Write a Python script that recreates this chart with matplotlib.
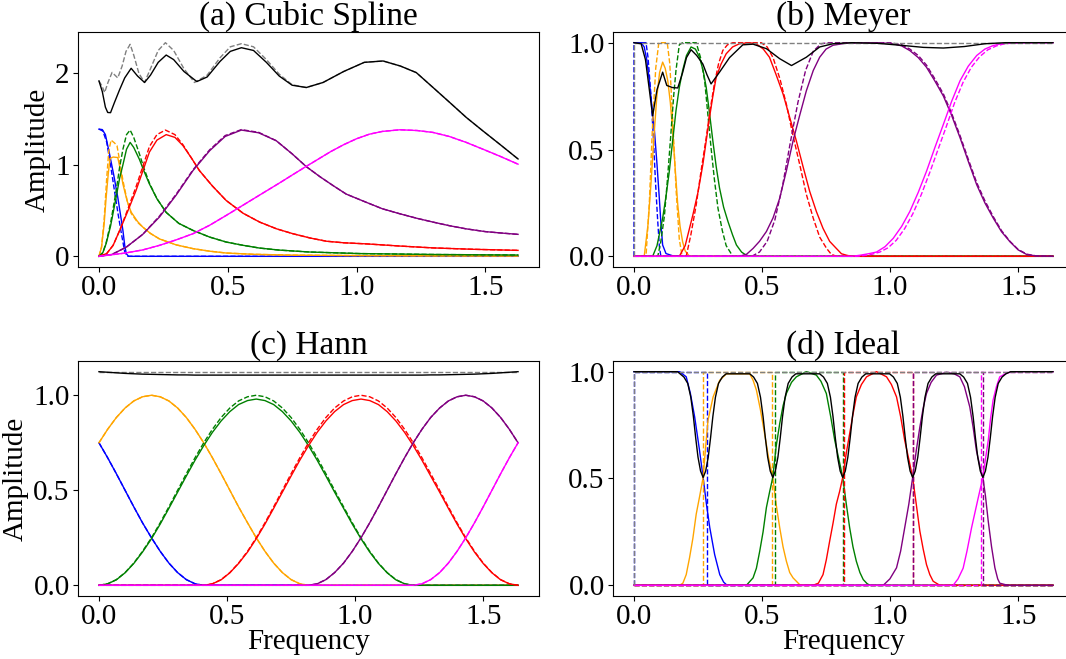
import matplotlib.pyplot as plt

plt.rcParams['font.family'] = ['Liberation Serif', 'DejaVu Serif']
plt.rcParams['font.size'] = 21

COLORS = ['blue', 'orange', 'green', 'red', 'purple', 'magenta']

# ---------------- (a) Cubic Spline ----------------
a_blue = [(0.0, 1.39), (0.013, 1.385), (0.025, 1.33), (0.041, 1.12), (0.058, 0.88), (0.073, 0.646),
          (0.085, 0.43), (0.093, 0.283), (0.1, 0.12), (0.106, 0.03), (0.115, 0.0), (1.627, 0.0)]
a_blue_d = [(0.0, 1.39), (0.015, 1.37), (0.03, 1.25), (0.045, 1.0), (0.06, 0.72), (0.075, 0.45),
            (0.087, 0.25), (0.1, 0.05), (0.11, 0.0), (1.627, 0.0)]

a_orange_tail = [(0.17, 0.32), (0.2, 0.25), (0.235, 0.19), (0.3, 0.125), (0.365, 0.084), (0.43, 0.056),
                 (0.494, 0.036), (0.6, 0.022), (0.75, 0.013), (1.0, 0.008), (1.3, 0.005), (1.627, 0.004)]
a_orange = [(0.0, 0.0), (0.01, 0.1), (0.02, 0.35), (0.028, 0.646), (0.036, 0.9), (0.043, 1.07),
            (0.055, 1.085), (0.073, 1.08), (0.083, 0.95), (0.093, 0.79), (0.11, 0.6), (0.125, 0.483),
            (0.15, 0.38)] + a_orange_tail
a_orange_d = [(0.0, 0.0), (0.01, 0.1), (0.02, 0.4), (0.03, 0.85), (0.038, 1.15), (0.047, 1.27),
              (0.06, 1.24), (0.07, 1.21), (0.08, 1.05), (0.093, 0.83), (0.11, 0.6), (0.125, 0.47),
              (0.15, 0.37)] + a_orange_tail

a_green_tail = [(0.261, 0.48), (0.31, 0.36), (0.365, 0.283), (0.43, 0.21), (0.494, 0.156), (0.56, 0.12),
                (0.624, 0.09), (0.7, 0.068), (0.818, 0.047), (1.012, 0.03), (1.3, 0.02), (1.627, 0.014)]
a_green = [(0.0, 0.0), (0.015, 0.04), (0.028, 0.14), (0.045, 0.33), (0.067, 0.65), (0.08, 0.85),
           (0.093, 1.0), (0.107, 1.17), (0.121, 1.245), (0.135, 1.19), (0.157, 1.06), (0.175, 0.93),
           (0.196, 0.79), (0.225, 0.63)] + a_green_tail
a_green_d = [(0.0, 0.0), (0.015, 0.04), (0.028, 0.15), (0.045, 0.36), (0.067, 0.72), (0.08, 0.97),
             (0.093, 1.17), (0.107, 1.33), (0.121, 1.38), (0.135, 1.3), (0.157, 1.12), (0.175, 0.96),
             (0.196, 0.8), (0.225, 0.63)] + a_green_tail

a_red_tail = [(0.39, 0.937), (0.44, 0.77), (0.494, 0.61), (0.56, 0.47), (0.624, 0.374), (0.69, 0.3),
              (0.753, 0.247), (0.82, 0.2), (0.883, 0.165), (0.95, 0.148), (1.038, 0.136), (1.17, 0.112),
              (1.297, 0.092), (1.45, 0.077), (1.627, 0.065)]
a_red = [(0.0, 0.0), (0.03, 0.03), (0.055, 0.12), (0.08, 0.28), (0.11, 0.48), (0.144, 0.72), (0.17, 0.93),
         (0.196, 1.14), (0.225, 1.27), (0.261, 1.33), (0.295, 1.3), (0.326, 1.21), (0.36, 1.07)] + a_red_tail
a_red_d = [(0.0, 0.0), (0.03, 0.03), (0.055, 0.12), (0.08, 0.28), (0.11, 0.5), (0.144, 0.76), (0.17, 0.98),
           (0.196, 1.2), (0.225, 1.33), (0.258, 1.38), (0.295, 1.33), (0.326, 1.22), (0.36, 1.07)] + a_red_tail

a_purple = [(0.0, 0.0), (0.05, 0.02), (0.106, 0.1), (0.17, 0.24), (0.235, 0.43), (0.3, 0.67), (0.365, 0.937),
            (0.43, 1.155), (0.49, 1.31), (0.553, 1.38), (0.62, 1.35), (0.688, 1.264), (0.75, 1.12),
            (0.805, 0.98), (0.858, 0.87), (0.909, 0.773), (0.96, 0.68), (1.038, 0.59), (1.1, 0.52),
            (1.168, 0.465), (1.235, 0.415), (1.297, 0.374), (1.36, 0.335), (1.426, 0.3), (1.5, 0.27),
            (1.56, 0.255), (1.627, 0.24)]
a_purple_d = [(0.0, 0.0), (0.05, 0.02), (0.106, 0.1), (0.17, 0.24), (0.235, 0.44), (0.3, 0.68), (0.365, 0.945),
              (0.43, 1.165), (0.49, 1.32), (0.553, 1.385), (0.62, 1.355), (0.688, 1.264), (0.75, 1.12),
              (0.805, 0.98), (0.858, 0.87), (0.909, 0.773), (0.96, 0.68), (1.038, 0.59), (1.1, 0.52),
              (1.168, 0.465), (1.235, 0.415), (1.297, 0.374), (1.36, 0.335), (1.426, 0.3), (1.5, 0.27),
              (1.56, 0.255), (1.627, 0.24)]

a_magenta = [(0.0, 0.0), (0.1, 0.035), (0.17, 0.07), (0.235, 0.12), (0.3, 0.18), (0.365, 0.247),
             (0.43, 0.34), (0.494, 0.447), (0.56, 0.56), (0.624, 0.67), (0.7, 0.8), (0.75, 0.888),
             (0.8, 0.975), (0.85, 1.06), (0.9, 1.145), (0.95, 1.22), (1.0, 1.285), (1.05, 1.335),
             (1.1, 1.365), (1.168, 1.383), (1.235, 1.375), (1.297, 1.354), (1.36, 1.31), (1.426, 1.245),
             (1.5, 1.16), (1.56, 1.09), (1.627, 1.007)]
a_magenta_d = a_magenta

a_sum_tail = [(0.805, 1.845), (0.87, 1.9), (0.95, 2.02), (1.03, 2.12), (1.103, 2.135), (1.17, 2.08),
              (1.232, 2.008), (1.297, 1.845), (1.362, 1.681), (1.426, 1.518), (1.49, 1.372),
              (1.555, 1.227), (1.627, 1.064)]
a_sum = [(0.0, 1.917), (0.013, 1.8), (0.025, 1.63), (0.034, 1.572), (0.045, 1.57), (0.06, 1.68),
         (0.08, 1.82), (0.1, 1.95), (0.125, 2.055), (0.15, 1.97), (0.177, 1.9), (0.2, 1.98), (0.23, 2.12),
         (0.261, 2.2), (0.29, 2.15), (0.33, 2.02), (0.38, 1.91), (0.42, 1.96), (0.47, 2.13), (0.51, 2.24),
         (0.553, 2.28), (0.6, 2.25), (0.65, 2.12), (0.7, 1.97), (0.75, 1.87)] + a_sum_tail
a_sum_d = [(0.0, 1.917), (0.012, 1.86), (0.022, 1.79), (0.035, 1.9), (0.051, 2.01), (0.062, 1.98),
           (0.073, 1.95), (0.09, 2.08), (0.105, 2.24), (0.121, 2.317), (0.135, 2.2), (0.155, 2.0),
           (0.177, 1.9), (0.2, 2.05), (0.23, 2.25), (0.258, 2.335), (0.29, 2.25), (0.33, 2.05),
           (0.371, 1.9), (0.42, 1.98), (0.47, 2.17), (0.51, 2.29), (0.553, 2.324), (0.6, 2.29),
           (0.65, 2.15), (0.7, 1.99), (0.75, 1.875)] + a_sum_tail

# ---------------- (b) Meyer ----------------
b_blue = [(0.0, 1.0), (0.028, 1.0), (0.04, 0.98), (0.05, 0.92), (0.06, 0.822), (0.07, 0.7), (0.08, 0.587),
          (0.09, 0.43), (0.099, 0.272), (0.106, 0.14), (0.112, 0.053), (0.125, 0.013), (0.15, 0.003),
          (0.177, 0.0), (1.636, 0.0)]
b_blue_d = [(0.0, 0.0), (0.0, 1.0), (0.047, 1.0), (0.055, 0.93), (0.067, 0.744), (0.076, 0.55),
            (0.084, 0.35), (0.092, 0.18), (0.099, 0.05), (0.105, 0.0), (1.636, 0.0)]
b_orange = [(0.0, 0.0), (0.04, 0.0), (0.055, 0.15), (0.067, 0.35), (0.078, 0.56), (0.089, 0.744),
            (0.1, 0.86), (0.112, 0.909), (0.122, 0.88), (0.132, 0.822), (0.142, 0.72), (0.151, 0.587),
            (0.161, 0.41), (0.171, 0.241), (0.18, 0.14), (0.19, 0.068), (0.2, 0.025), (0.217, 0.0),
            (1.636, 0.0)]
b_orange_d = [(0.0, 0.0), (0.047, 0.0), (0.06, 0.25), (0.072, 0.6), (0.085, 0.88), (0.097, 1.0),
              (0.13, 1.0), (0.14, 0.9), (0.152, 0.62), (0.165, 0.3), (0.177, 0.08), (0.188, 0.0),
              (1.636, 0.0)]
b_green = [(0.0, 0.0), (0.073, 0.0), (0.09, 0.05), (0.112, 0.178), (0.125, 0.28), (0.138, 0.398),
           (0.151, 0.54), (0.164, 0.681), (0.177, 0.79), (0.19, 0.87), (0.205, 0.94), (0.223, 0.98),
           (0.24, 0.97), (0.256, 0.932), (0.27, 0.87), (0.282, 0.791), (0.295, 0.67), (0.308, 0.54),
           (0.321, 0.42), (0.334, 0.32), (0.35, 0.23), (0.367, 0.163), (0.385, 0.1), (0.4, 0.053),
           (0.42, 0.02), (0.438, 0.005), (0.46, 0.0), (1.636, 0.0)]
b_green_d = [(0.0, 0.0), (0.093, 0.0), (0.105, 0.07), (0.119, 0.19), (0.132, 0.38), (0.145, 0.587),
             (0.155, 0.75), (0.164, 0.87), (0.177, 0.99), (0.19, 1.0), (0.243, 1.0), (0.26, 0.93),
             (0.276, 0.822), (0.288, 0.67), (0.301, 0.508), (0.314, 0.36), (0.328, 0.225), (0.345, 0.12),
             (0.36, 0.05), (0.386, 0.0), (1.636, 0.0)]
b_red = [(0.0, 0.0), (0.177, 0.0), (0.2, 0.05), (0.23, 0.194), (0.25, 0.3), (0.269, 0.43), (0.282, 0.54),
         (0.295, 0.65), (0.308, 0.75), (0.321, 0.838), (0.34, 0.9), (0.36, 0.948), (0.385, 0.98),
         (0.412, 0.995), (0.45, 1.0), (0.477, 0.995), (0.505, 0.97), (0.529, 0.932), (0.555, 0.85),
         (0.582, 0.76), (0.608, 0.65), (0.634, 0.54), (0.66, 0.42), (0.686, 0.304), (0.712, 0.21),
         (0.738, 0.131), (0.764, 0.07), (0.79, 0.037), (0.81, 0.012), (0.83, 0.005), (0.85, 0.0),
         (1.636, 0.0)]
b_red_d = [(0.0, 0.0), (0.204, 0.0), (0.222, 0.1), (0.243, 0.241), (0.262, 0.4), (0.282, 0.555),
           (0.298, 0.69), (0.314, 0.807), (0.33, 0.9), (0.347, 0.964), (0.365, 0.99), (0.386, 1.0),
           (0.497, 1.0), (0.52, 0.98), (0.543, 0.93), (0.57, 0.83), (0.595, 0.712), (0.62, 0.57),
           (0.647, 0.43), (0.673, 0.29), (0.7, 0.178), (0.725, 0.09), (0.752, 0.037), (0.77, 0.01),
           (0.79, 0.0), (1.636, 0.0)]
b_purple = [(0.0, 0.0), (0.412, 0.0), (0.44, 0.01), (0.465, 0.037), (0.49, 0.07), (0.517, 0.116),
            (0.543, 0.18), (0.569, 0.272), (0.595, 0.4), (0.621, 0.54), (0.647, 0.66), (0.673, 0.775),
            (0.7, 0.87), (0.725, 0.932), (0.75, 0.97), (0.777, 0.988), (0.83, 0.998), (0.95, 1.0),
            (1.012, 0.995), (1.045, 0.985), (1.077, 0.963), (1.11, 0.93), (1.142, 0.885), (1.175, 0.82),
            (1.208, 0.75), (1.24, 0.66), (1.273, 0.555), (1.305, 0.445), (1.338, 0.335), (1.37, 0.25),
            (1.403, 0.178), (1.435, 0.115), (1.468, 0.068), (1.5, 0.03), (1.534, 0.008), (1.57, 0.002),
            (1.636, 0.0)]
b_purple_d = [(0.0, 0.0), (0.46, 0.0), (0.49, 0.02), (0.52, 0.07), (0.55, 0.17), (0.58, 0.33),
              (0.61, 0.53), (0.64, 0.72), (0.67, 0.87), (0.7, 0.96), (0.73, 0.995), (0.76, 1.0),
              (1.0, 1.0), (1.045, 0.99), (1.077, 0.97), (1.11, 0.94), (1.142, 0.895), (1.175, 0.83),
              (1.208, 0.76), (1.24, 0.67), (1.273, 0.565), (1.305, 0.455), (1.338, 0.345), (1.37, 0.26),
              (1.403, 0.185), (1.435, 0.12), (1.468, 0.07), (1.5, 0.032), (1.534, 0.01), (1.57, 0.002),
              (1.636, 0.0)]
b_magenta = [(0.0, 0.0), (0.85, 0.0), (0.882, 0.005), (0.915, 0.012), (0.947, 0.02), (0.98, 0.045),
             (1.012, 0.084), (1.045, 0.14), (1.077, 0.21), (1.11, 0.3), (1.142, 0.398), (1.175, 0.51),
             (1.208, 0.618), (1.24, 0.725), (1.273, 0.822), (1.305, 0.89), (1.338, 0.94), (1.37, 0.97),
             (1.403, 0.987), (1.435, 0.995), (1.468, 0.998), (1.5, 1.0), (1.636, 1.0)]
b_magenta_d = [(0.0, 0.0), (0.87, 0.0), (0.9, 0.004), (0.93, 0.01), (0.96, 0.02), (0.992, 0.04),
               (1.024, 0.075), (1.057, 0.13), (1.089, 0.2), (1.122, 0.29), (1.154, 0.39), (1.187, 0.5),
               (1.22, 0.61), (1.252, 0.72), (1.285, 0.815), (1.317, 0.885), (1.35, 0.935), (1.382, 0.967),
               (1.415, 0.985), (1.447, 0.995), (1.48, 0.998), (1.51, 1.0), (1.636, 1.0)]
b_sum = [(0.0, 1.0), (0.028, 0.995), (0.045, 0.92), (0.06, 0.78), (0.073, 0.658), (0.09, 0.78),
         (0.112, 0.862), (0.128, 0.8), (0.15, 0.79), (0.171, 0.788), (0.19, 0.86), (0.205, 0.93),
         (0.223, 0.967), (0.245, 0.94), (0.269, 0.9), (0.285, 0.85), (0.301, 0.807), (0.334, 0.862),
         (0.373, 0.93), (0.425, 0.99), (0.465, 0.993), (0.517, 0.972), (0.569, 0.925), (0.615, 0.893),
         (0.673, 0.932), (0.725, 0.98), (0.777, 0.995), (0.85, 1.0), (0.95, 0.997), (1.05, 0.987),
         (1.13, 0.978), (1.208, 0.975), (1.29, 0.982), (1.37, 0.995), (1.45, 1.0), (1.636, 1.0)]
b_sum_d = [(0.0, 0.0), (0.0, 1.0), (1.636, 1.0)]

# ---------------- (c) Hann ----------------
c_x = [0.0, 0.034, 0.068, 0.102, 0.136, 0.170, 0.205, 0.239, 0.273, 0.307, 0.341, 0.375, 0.409,
       0.443, 0.477, 0.511, 0.545, 0.580, 0.614, 0.648, 0.682, 0.716, 0.750, 0.784, 0.818, 0.852,
       0.886, 0.920, 0.955, 0.989, 1.023, 1.057, 1.091, 1.125, 1.159, 1.193, 1.227, 1.261, 1.295,
       1.330, 1.364, 1.398, 1.432, 1.466, 1.500, 1.534, 1.568, 1.602, 1.636]
c_blue = [0.75, 0.671, 0.587, 0.5, 0.413, 0.329, 0.25, 0.179, 0.117, 0.067, 0.03, 0.008, 0.0] + [0.0] * 36
c_orange = ([0.75, 0.821, 0.883, 0.933, 0.97, 0.992, 1.0, 0.992, 0.97, 0.933, 0.883, 0.821, 0.75,
             0.671, 0.587, 0.5, 0.413, 0.329, 0.25, 0.179, 0.117, 0.067, 0.03, 0.008, 0.0] + [0.0] * 24)
c_green = ([0.0, 0.008, 0.029, 0.066, 0.115, 0.175, 0.245, 0.322, 0.405, 0.49, 0.575, 0.658, 0.735,
            0.805, 0.865, 0.914, 0.951, 0.972, 0.98, 0.972, 0.951, 0.914, 0.865, 0.805, 0.735, 0.658,
            0.575, 0.49, 0.405, 0.322, 0.245, 0.175, 0.115, 0.066, 0.029, 0.008, 0.0] + [0.0] * 12)
c_green_d = ([0.0, 0.008, 0.03, 0.067, 0.117, 0.179, 0.25, 0.329, 0.413, 0.5, 0.587, 0.671, 0.75,
              0.821, 0.883, 0.933, 0.97, 0.992, 1.0, 0.992, 0.97, 0.933, 0.883, 0.821, 0.75, 0.671,
              0.587, 0.5, 0.413, 0.329, 0.25, 0.179, 0.117, 0.067, 0.03, 0.008, 0.0] + [0.0] * 12)
c_red = [0.0] * 12 + [0.0, 0.008, 0.029, 0.066, 0.115, 0.175, 0.245, 0.322, 0.405, 0.49, 0.575, 0.658,
                      0.735, 0.805, 0.865, 0.914, 0.951, 0.972, 0.98, 0.972, 0.951, 0.914, 0.865, 0.805,
                      0.735, 0.658, 0.575, 0.49, 0.405, 0.322, 0.245, 0.175, 0.115, 0.066, 0.029,
                      0.008, 0.0]
c_red_d = [0.0] * 12 + [0.0, 0.008, 0.03, 0.067, 0.117, 0.179, 0.25, 0.329, 0.413, 0.5, 0.587, 0.671,
                        0.75, 0.821, 0.883, 0.933, 0.97, 0.992, 1.0, 0.992, 0.97, 0.933, 0.883, 0.821,
                        0.75, 0.671, 0.587, 0.5, 0.413, 0.329, 0.25, 0.179, 0.117, 0.067, 0.03,
                        0.008, 0.0]
c_purple = [0.0] * 24 + [0.0, 0.008, 0.03, 0.067, 0.117, 0.179, 0.25, 0.329, 0.413, 0.5, 0.587, 0.671,
                         0.75, 0.821, 0.883, 0.933, 0.97, 0.992, 1.0, 0.992, 0.97, 0.933, 0.883,
                         0.821, 0.75]
c_magenta = [0.0] * 36 + [0.0, 0.008, 0.03, 0.067, 0.117, 0.179, 0.25, 0.329, 0.413, 0.5, 0.587,
                          0.671, 0.75]
c_sum = ([1.124, 1.121, 1.118, 1.115, 1.113, 1.111, 1.11, 1.109, 1.108, 1.107, 1.107, 1.106]
         + [1.106] * 25
         + [1.106, 1.107, 1.107, 1.108, 1.109, 1.11, 1.111, 1.113, 1.115, 1.118, 1.121, 1.124])
c_sum_d = [1.124] * 49

# ---------------- (d) Ideal ----------------
d_blue = [(0.0, 1.0), (0.178, 1.0), (0.204, 0.976), (0.22, 0.9), (0.237, 0.788), (0.255, 0.64),
          (0.27, 0.505), (0.283, 0.38), (0.296, 0.27), (0.315, 0.144), (0.335, 0.05), (0.35, 0.015),
          (0.361, 0.003), (0.38, 0.0), (1.636, 0.0)]
d_orange = [(0.0, 0.0), (0.178, 0.0), (0.191, 0.01), (0.204, 0.05), (0.217, 0.129), (0.23, 0.22),
            (0.243, 0.333), (0.257, 0.42), (0.27, 0.505), (0.28, 0.65), (0.289, 0.772), (0.309, 0.882),
            (0.335, 0.96), (0.361, 0.99), (0.452, 0.99), (0.465, 0.96), (0.478, 0.914), (0.494, 0.82),
            (0.51, 0.71), (0.525, 0.6), (0.542, 0.505), (0.555, 0.38), (0.569, 0.27), (0.582, 0.18),
            (0.595, 0.113), (0.608, 0.06), (0.621, 0.035), (0.647, 0.003), (0.66, 0.0), (1.636, 0.0)]
d_green = [(0.0, 0.0), (0.439, 0.0), (0.465, 0.035), (0.478, 0.08), (0.491, 0.16), (0.504, 0.25),
           (0.517, 0.364), (0.53, 0.44), (0.542, 0.505), (0.555, 0.65), (0.569, 0.757), (0.582, 0.84),
           (0.595, 0.898), (0.615, 0.95), (0.634, 0.976), (0.673, 1.0), (0.712, 0.984), (0.73, 0.955),
           (0.751, 0.898), (0.768, 0.79), (0.784, 0.678), (0.8, 0.59), (0.815, 0.505), (0.829, 0.38),
           (0.842, 0.27), (0.855, 0.18), (0.868, 0.113), (0.882, 0.06), (0.895, 0.027), (0.91, 0.008),
           (0.921, 0.0), (1.636, 0.0)]
d_red = [(0.0, 0.0), (0.699, 0.0), (0.72, 0.01), (0.738, 0.05), (0.751, 0.12), (0.764, 0.207),
         (0.777, 0.29), (0.79, 0.38), (0.803, 0.44), (0.815, 0.505), (0.829, 0.62), (0.842, 0.71),
         (0.855, 0.8), (0.868, 0.882), (0.888, 0.94), (0.908, 0.976), (0.947, 1.0), (0.986, 0.976),
         (1.005, 0.94), (1.025, 0.882), (1.041, 0.79), (1.057, 0.678), (1.073, 0.59), (1.088, 0.505),
         (1.102, 0.38), (1.116, 0.254), (1.129, 0.17), (1.142, 0.097), (1.155, 0.05), (1.168, 0.019),
         (1.194, 0.0), (1.636, 0.0)]
d_purple = [(0.0, 0.0), (0.973, 0.0), (0.999, 0.03), (1.025, 0.082), (1.041, 0.16), (1.057, 0.27),
            (1.073, 0.38), (1.088, 0.505), (1.102, 0.63), (1.116, 0.74), (1.129, 0.83), (1.142, 0.898),
            (1.16, 0.95), (1.181, 0.984), (1.22, 0.997), (1.25, 0.99), (1.272, 0.976), (1.29, 0.93),
            (1.311, 0.835), (1.324, 0.74), (1.337, 0.63), (1.35, 0.56), (1.362, 0.505), (1.372, 0.42),
            (1.383, 0.3), (1.396, 0.18), (1.409, 0.082), (1.42, 0.03), (1.428, 0.01), (1.45, 0.003),
            (1.467, 0.0), (1.636, 0.0)]
d_magenta = [(0.0, 0.0), (1.246, 0.0), (1.265, 0.03), (1.285, 0.08), (1.3, 0.16), (1.318, 0.27),
             (1.331, 0.34), (1.344, 0.41), (1.362, 0.505), (1.372, 0.59), (1.383, 0.678), (1.392, 0.78),
             (1.402, 0.867), (1.415, 0.93), (1.428, 0.976), (1.45, 0.99), (1.467, 0.997), (1.5, 1.0),
             (1.636, 1.0)]
# ideal (dashed) band edges
d_blue_d = [(0.0, 0.0), (0.0, 1.0), (0.285, 1.0), (0.285, 0.0), (1.636, 0.0)]
d_orange_d = [(0.0, 0.0), (0.27, 0.0), (0.27, 1.0), (0.537, 1.0), (0.537, 0.0), (1.636, 0.0)]
d_green_d = [(0.0, 0.0), (0.552, 0.0), (0.552, 1.0), (0.815, 1.0), (0.815, 0.0), (1.636, 0.0)]
d_red_d = [(0.0, 0.0), (0.82, 0.0), (0.82, 1.0), (1.088, 1.0), (1.088, 0.0), (1.636, 0.0)]
d_purple_d = [(0.0, 0.0), (1.09, 0.0), (1.09, 1.0), (1.364, 1.0), (1.364, 0.0), (1.636, 0.0)]
d_magenta_d = [(0.0, 0.0), (1.355, 0.0), (1.355, 1.0), (1.636, 1.0)]

d_sum = [(0.0, 1.0), (0.17, 1.0),
         (0.18, 0.99), (0.195, 0.975), (0.21, 0.945), (0.222, 0.88), (0.232, 0.79), (0.241, 0.69),
         (0.25, 0.6), (0.26, 0.535), (0.27, 0.505), (0.28, 0.535), (0.29, 0.6), (0.299, 0.69),
         (0.308, 0.79), (0.318, 0.88), (0.33, 0.945), (0.345, 0.975), (0.36, 0.99),
         (0.452, 0.99), (0.467, 0.975), (0.482, 0.945), (0.494, 0.88), (0.504, 0.79), (0.513, 0.69),
         (0.522, 0.6), (0.532, 0.535), (0.542, 0.505), (0.552, 0.535), (0.562, 0.6), (0.571, 0.69),
         (0.58, 0.79), (0.59, 0.88), (0.602, 0.945), (0.617, 0.975), (0.632, 0.99),
         (0.725, 0.99), (0.74, 0.975), (0.755, 0.945), (0.767, 0.88), (0.777, 0.79), (0.786, 0.69),
         (0.795, 0.6), (0.805, 0.535), (0.815, 0.505), (0.825, 0.535), (0.835, 0.6), (0.844, 0.69),
         (0.853, 0.79), (0.863, 0.88), (0.875, 0.945), (0.89, 0.975), (0.905, 0.99),
         (0.998, 0.99), (1.013, 0.975), (1.028, 0.945), (1.04, 0.88), (1.05, 0.79), (1.059, 0.69),
         (1.068, 0.6), (1.078, 0.535), (1.088, 0.505), (1.098, 0.535), (1.108, 0.6), (1.117, 0.69),
         (1.126, 0.79), (1.136, 0.88), (1.148, 0.945), (1.163, 0.975), (1.178, 0.99),
         (1.272, 0.99), (1.287, 0.975), (1.302, 0.945), (1.314, 0.88), (1.324, 0.79), (1.333, 0.69),
         (1.342, 0.6), (1.352, 0.535), (1.362, 0.505), (1.372, 0.535), (1.382, 0.6), (1.391, 0.69),
         (1.4, 0.79), (1.41, 0.88), (1.422, 0.945), (1.437, 0.975), (1.452, 0.99), (1.47, 1.0),
         (1.636, 1.0)]
d_sum_d = [(0.0, 0.0), (0.0, 1.0), (1.636, 1.0)]


def draw_panel(ax, solid, dashed, total, total_d, title):
    for color, s, d in zip(COLORS, solid, dashed):
        x, y = zip(*s)
        ax.plot(x, y, color=color, lw=1.0)
        x, y = zip(*d)
        ax.plot(x, y, color=color, lw=1.0, ls='--')
    x, y = zip(*total_d)
    ax.plot(x, y, color='gray', lw=1.0, ls='--')
    x, y = zip(*total)
    ax.plot(x, y, color='black', lw=1.0)
    ax.set_title(title, fontsize=24, pad=3)
    ax.set_xticks([0.0, 0.5, 1.0, 1.5])
    ax.tick_params(direction='out', length=3.5, width=0.8, pad=2.5, labelsize=21)


fig = plt.figure(figsize=(10.66, 6.59), dpi=100)
W, H = 1066, 659
ax_a = fig.add_axes([78 / W, (H - 267) / H, 461 / W, 235 / H])
ax_b = fig.add_axes([613 / W, (H - 267) / H, 461 / W, 235 / H])
ax_c = fig.add_axes([78 / W, (H - 596) / H, 461 / W, 235 / H])
ax_d = fig.add_axes([613 / W, (H - 596) / H, 461 / W, 235 / H])

draw_panel(ax_a,
           [a_blue, a_orange, a_green, a_red, a_purple, a_magenta],
           [a_blue_d, a_orange_d, a_green_d, a_red_d, a_purple_d, a_magenta_d],
           a_sum, a_sum_d, '(a) Cubic Spline')
ax_a.set_yticks([0, 1, 2])
ax_a.set_ylabel('Amplitude', fontsize=21, labelpad=3)

draw_panel(ax_b,
           [b_blue, b_orange, b_green, b_red, b_purple, b_magenta],
           [b_blue_d, b_orange_d, b_green_d, b_red_d, b_purple_d, b_magenta_d],
           b_sum, b_sum_d, '(b) Meyer')
ax_b.set_yticks([0.0, 0.5, 1.0])

c_solid = [list(zip(c_x, v)) for v in [c_blue, c_orange, c_green, c_red, c_purple, c_magenta]]
c_dashed = [list(zip(c_x, v)) for v in [c_blue, c_orange, c_green_d, c_red_d, c_purple, c_magenta]]
draw_panel(ax_c, c_solid, c_dashed, list(zip(c_x, c_sum)), list(zip(c_x, c_sum_d)), '(c) Hann')
ax_c.set_yticks([0.0, 0.5, 1.0])
ax_c.set_ylabel('Amplitude', fontsize=21, labelpad=3)
ax_c.set_xlabel('Frequency', fontsize=21, labelpad=-1)

draw_panel(ax_d,
           [d_blue, d_orange, d_green, d_red, d_purple, d_magenta],
           [d_blue_d, d_orange_d, d_green_d, d_red_d, d_purple_d, d_magenta_d],
           d_sum, d_sum_d, '(d) Ideal')
ax_d.set_yticks([0.0, 0.5, 1.0])
ax_d.set_xlabel('Frequency', fontsize=21, labelpad=-1)

fig.savefig('out.png', dpi=100)
